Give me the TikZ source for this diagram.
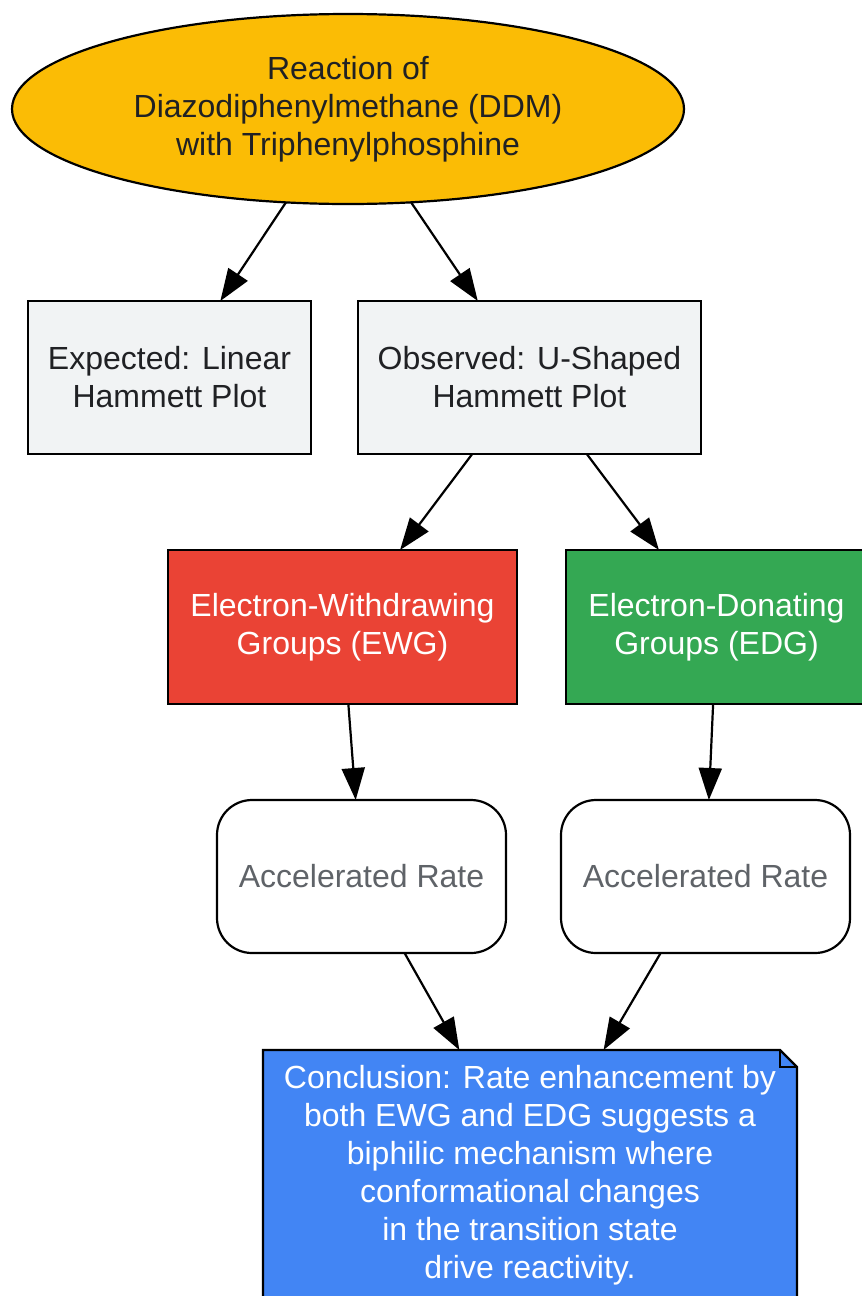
\documentclass[tikz,border=0pt]{standalone}
\usepackage{fontspec}
\setmainfont{Liberation Sans}
\usetikzlibrary{shapes.geometric,arrows.meta}
\definecolor{cyellow}{HTML}{FBBC05}
\definecolor{cgray}{HTML}{F1F3F4}
\definecolor{cred}{HTML}{EA4335}
\definecolor{cgreen}{HTML}{34A853}
\definecolor{cblue}{HTML}{4285F4}
\definecolor{ctext}{HTML}{202124}
\definecolor{cgtext}{HTML}{5F6368}
\tikzset{
  base/.style={draw=black, line width=2.2pt, inner sep=0pt, outer sep=0pt, align=center,
    font=\fontsize{32}{38}\selectfont},
  startnode/.style={base, ellipse, fill=cyellow, text=ctext, minimum width=672pt, minimum height=190pt},
  graybox/.style={base, rectangle, fill=cgray, text=ctext, minimum height=153pt},
  redbox/.style={base, rectangle, fill=cred, text=white, minimum height=154pt},
  greenbox/.style={base, rectangle, fill=cgreen, text=white, minimum height=154pt},
  ratebox/.style={base, rectangle, rounded corners=35pt, fill=white, text=cgtext, minimum width=289pt, minimum height=153pt},
  notebox/.style={base, draw=none, rectangle, text=white, minimum width=534pt, minimum height=251pt},
  conn/.style={line width=2.2pt, -{Triangle[length=32pt, width=23pt]}}
}
\begin{document}
\begin{tikzpicture}[x=1pt, y=-1pt]
\useasboundingbox (0,0) rectangle (862,1296);
\clip (0,0) rectangle (862,1296);
\fill[white] (0,0) rectangle (862,1296);

\node[startnode] (start) at (348,109) {Reaction of\\Diazodiphenylmethane (DDM)\\with Triphenylphosphine};
\node[graybox, minimum width=283pt] (exp) at (169.5,377.5) {Expected: Linear\\Hammett Plot};
\node[graybox, minimum width=343pt] (obs) at (529.5,377.5) {Observed: U-Shaped\\Hammett Plot};
\node[redbox, minimum width=349pt] (ewg) at (342.5,627) {Electron-Withdrawing\\Groups (EWG)};
\node[greenbox, minimum width=301pt] (edg) at (716.5,627) {Electron-Donating\\Groups (EDG)};
\node[ratebox] (accl) at (361.5,876.5) {Accelerated Rate};
\node[ratebox] (accr) at (705.5,876.5) {Accelerated Rate};
\node[notebox] (concl) at (530,1175.5) {};
\fill[cblue, draw=black, line width=2.2pt, line join=miter]
  (concl.north west) -- ([xshift=-17pt]concl.north east) -- ([yshift=-17pt]concl.north east)
  -- (concl.south east) -- (concl.south west) -- cycle;
\draw[line width=2.2pt] ([xshift=-17pt]concl.north east) -- ([xshift=-17pt,yshift=-17pt]concl.north east) -- ([yshift=-17pt]concl.north east);
\node[base, draw=none, text=white] (concltext) at (concl.center) {Conclusion: Rate enhancement by\\both EWG and EDG suggests a\\biphilic mechanism where\\conformational changes\\in the transition state\\drive reactivity.};

\draw[conn] (start) -- (exp);
\draw[conn] (start) -- (obs);
\draw[conn] (obs) -- (ewg);
\draw[conn] (obs) -- (edg);
\draw[conn] (ewg) -- (accl);
\draw[conn] (edg) -- (accr);
\draw[conn] (accl) -- (concl);
\draw[conn] (accr) -- (concl);
\end{tikzpicture}
\end{document}
